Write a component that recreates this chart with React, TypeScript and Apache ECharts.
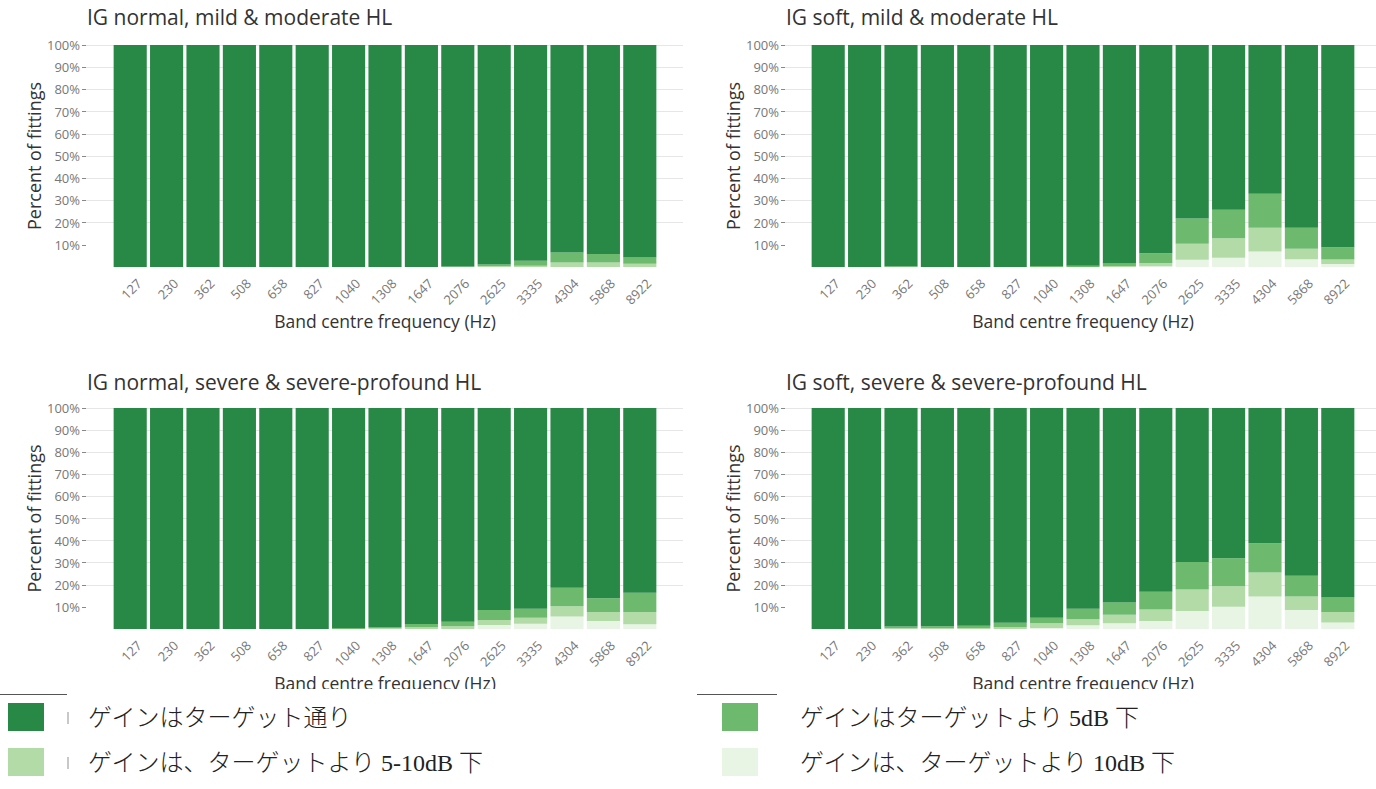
import React, { useEffect, useRef } from "react";
import * as echarts from "echarts";

const categories = ["127", "230", "362", "508", "658", "827", "1040", "1308", "1647", "2076", "2625", "3335", "4304", "5868", "8922"];
const yTicks = [10, 20, 30, 40, 50, 60, 70, 80, 90, 100];

const panelTitles = [
  "IG normal, mild & moderate HL",
  "IG soft, mild & moderate HL",
  "IG normal, severe & severe-profound HL",
  "IG soft, severe & severe-profound HL",
];

const seriesNames = [
  "ゲインは、ターゲットより 10dB 下",
  "ゲインは、ターゲットより 5-10dB 下",
  "ゲインはターゲットより 5dB 下",
  "ゲインはターゲット通り",
];
const seriesColors = ["#e8f4e4", "#b2dba8", "#6dba6f", "#278945"];

// Panel 1: IG normal, mild & moderate
const p1Below10 = [0, 0, 0, 0, 0, 0, 0, 0, 0, 0, 0, 0, 0, 0, 0];
const p1Below5to10 = [0, 0, 0, 0, 0, 0, 0, 0, 0, 0, 0.4, 0.6, 2, 2, 1.5];
const p1Below5 = [0, 0, 0, 0, 0, 0, 0, 0, 0, 0.2, 0.7, 2.2, 4.5, 3.8, 2.8];
const p1OnTarget = [100, 100, 100, 100, 100, 100, 100, 100, 100, 99.8, 98.9, 97.2, 93.5, 94.2, 95.7];

// Panel 2: IG soft, mild & moderate
const p2Below10 = [0, 0, 0, 0, 0, 0, 0, 0, 0, 0.3, 3.3, 4.2, 7, 3.5, 1.4];
const p2Below5to10 = [0, 0, 0, 0, 0, 0, 0, 0, 0.4, 1.5, 7.2, 8.8, 10.7, 4.7, 2];
const p2Below5 = [0, 0, 0.3, 0, 0, 0, 0.4, 0.6, 1.2, 4.4, 11.3, 12.8, 15.3, 9.5, 5.5];
const p2OnTarget = [100, 100, 99.7, 100, 100, 100, 99.6, 99.4, 98.4, 93.8, 78.2, 74.2, 67, 82.3, 91.1];

// Panel 3: IG normal, severe & severe-profound
const p3Below10 = [0, 0, 0, 0, 0, 0, 0, 0, 0, 0, 1.8, 2.4, 5.7, 3.6, 2.1];
const p3Below5to10 = [0, 0, 0, 0, 0, 0, 0, 0.3, 0.8, 1.3, 2.3, 2.7, 4.6, 4.1, 5.6];
const p3Below5 = [0, 0, 0, 0, 0, 0, 0.5, 0.6, 1.5, 2, 4.5, 4.1, 8.4, 6.2, 8.7];
const p3OnTarget = [100, 100, 100, 100, 100, 100, 99.5, 99.1, 97.7, 96.7, 91.4, 90.8, 81.3, 86.1, 83.6];

// Panel 4: IG soft, severe & severe-profound
const p4Below10 = [0, 0, 0, 0, 0, 0, 0.5, 1.7, 2.6, 3.6, 8.2, 10.1, 14.7, 8.6, 2.9];
const p4Below5to10 = [0, 0, 0.3, 0.4, 0.5, 0.8, 2.1, 2.7, 3.8, 5.2, 9.7, 9.3, 10.9, 6.1, 4.8];
const p4Below5 = [0, 0, 0.8, 0.9, 1, 2, 2.5, 4.8, 5.6, 8, 12.4, 12.6, 13.2, 9.4, 6.5];
const p4OnTarget = [100, 100, 98.9, 98.7, 98.5, 97.2, 94.9, 90.8, 88, 83.2, 69.7, 68, 61.2, 75.9, 85.8];

const panelData = [
  [p1Below10, p1Below5to10, p1Below5, p1OnTarget],
  [p2Below10, p2Below5to10, p2Below5, p2OnTarget],
  [p3Below10, p3Below5to10, p3Below5, p3OnTarget],
  [p4Below10, p4Below5to10, p4Below5, p4OnTarget],
];

const FONT = "'Open Sans', 'Noto Sans', sans-serif";
const LEGEND_FONT = "'Liberation Serif', 'Noto Sans CJK JP', serif";

function buildOption() {
  const grid: any[] = [];
  const xAxis: any[] = [];
  const yAxis: any[] = [];
  const series: any[] = [];
  const title: any[] = [];

  for (let p = 0; p < 4; p++) {
    const col = p % 2;
    const row = Math.floor(p / 2);
    const top = row ? 408 : 45;
    const bottomY = row ? 629 : 267;
    const height = bottomY - top;
    const barLeft = col ? 810 : 112;

    const gA = 3 * p;
    const gB = 3 * p + 1;
    const gC = 3 * p + 2;

    // grid A: gridlines & y labels
    grid.push({ left: col ? 785 : 86, top, width: col ? 1376 - 785 : 683 - 86, height, containLabel: false });
    // grid B: bars
    grid.push({ left: barLeft, top, width: 546, height, containLabel: false });
    // grid C: rotated category labels (anchored slightly right of each bar centre)
    grid.push({ left: barLeft + 9, top, width: 546, height, containLabel: false });

    xAxis.push({ type: "value", gridIndex: gA, show: false, min: 0, max: 1 });
    xAxis.push({
      type: "category",
      gridIndex: gB,
      data: categories,
      axisLine: { show: false },
      axisTick: { show: false },
      axisLabel: { show: false },
      name: "Band centre frequency (Hz)",
      nameLocation: "middle",
      nameGap: 45,
      nameTextStyle: { color: "#333", fontSize: 17.5, fontFamily: FONT },
    });
    xAxis.push({
      type: "category",
      gridIndex: gC,
      data: categories,
      axisLine: { show: false },
      axisTick: { show: false },
      axisLabel: { rotate: 45, color: "#777", fontSize: 13, margin: 14, interval: 0, fontFamily: FONT },
    });

    yAxis.push({
      type: "value",
      gridIndex: gA,
      min: 0,
      max: 100,
      interval: 10,
      axisLine: { show: false },
      axisTick: { show: true, length: 4, lineStyle: { color: "#888" }, customValues: yTicks },
      axisLabel: {
        color: "#777",
        fontSize: 13,
        margin: 6,
        fontFamily: FONT,
        customValues: yTicks,
        formatter: (v: number) => (v === 0 ? "" : v + "%"),
      },
      splitLine: { show: true, showMinLine: false, lineStyle: { color: "#e6e6e6", width: 1 } },
      name: "Percent of fittings",
      nameLocation: "middle",
      nameGap: 35,
      nameTextStyle: { color: "#333", fontSize: 18, fontFamily: FONT },
    });
    yAxis.push({ type: "value", gridIndex: gB, min: 0, max: 100, show: false, splitLine: { show: false } });
    yAxis.push({ type: "value", gridIndex: gC, min: 0, max: 100, show: false, splitLine: { show: false } });

    panelData[p].forEach((vals, i) => {
      series.push({
        type: "bar",
        name: seriesNames[i],
        xAxisIndex: gB,
        yAxisIndex: gB,
        stack: "panel" + p,
        barCategoryGap: "9%",
        data: vals,
        itemStyle: { color: seriesColors[i] },
        silent: true,
      });
    });

    title.push({
      text: panelTitles[p],
      left: col ? 786 : 87,
      top: row ? 371 : 6,
      padding: 0,
      textStyle: { color: "#333", fontSize: 21, fontWeight: "normal", fontFamily: FONT },
    });
  }

  const legendItems = [
    { x: 8, y: 703, color: seriesColors[3], text: seriesNames[3], tx: 88, ty: 718 },
    { x: 8, y: 748, color: seriesColors[1], text: seriesNames[1], tx: 88, ty: 763 },
    { x: 722, y: 703, color: seriesColors[2], text: seriesNames[2], tx: 800, ty: 718 },
    { x: 722, y: 748, color: seriesColors[0], text: seriesNames[0], tx: 800, ty: 763 },
  ];

  const graphic: any[] = [
    { type: "rect", left: 0, top: 689, z: 100, shape: { width: 1376, height: 100 }, style: { fill: "#ffffff" } },
    { type: "line", z: 101, shape: { x1: 0, y1: 694.5, x2: 67, y2: 694.5 }, style: { stroke: "#555", lineWidth: 1 } },
    { type: "line", z: 101, shape: { x1: 697, y1: 694.5, x2: 777, y2: 694.5 }, style: { stroke: "#555", lineWidth: 1 } },
  ];
  legendItems.forEach((it, i) => {
    graphic.push({ type: "rect", z: 101, shape: { x: it.x, y: it.y, width: 36, height: 28 }, style: { fill: it.color } });
    if (i < 2) {
      graphic.push({ type: "rect", z: 101, shape: { x: 67, y: it.ty - 6, width: 2, height: 12 }, style: { fill: "#c8c8c8" } });
    }
    graphic.push({
      type: "text",
      z: 101,
      x: it.tx,
      y: it.ty,
      style: {
        text: it.text,
        fill: "#222",
        fontSize: 24,
        fontWeight: 300,
        fontFamily: LEGEND_FONT,
        verticalAlign: "middle",
        align: "left",
      },
    });
  });

  return {
    animation: false,
    backgroundColor: "#ffffff",
    textStyle: { fontFamily: FONT },
    title,
    grid,
    xAxis,
    yAxis,
    series,
    graphic,
  };
}

export default function App() {
  const ref = useRef<HTMLDivElement>(null);
  useEffect(() => {
    if (!ref.current) return;
    const chart = echarts.init(ref.current, undefined, { renderer: "svg" });
    chart.setOption(buildOption() as any);
    return () => chart.dispose();
  }, []);
  return (
    <div
      ref={ref}
      style={{ position: "fixed", left: 0, top: 0, width: 1376, height: 789, background: "#fff" }}
    />
  );
}
